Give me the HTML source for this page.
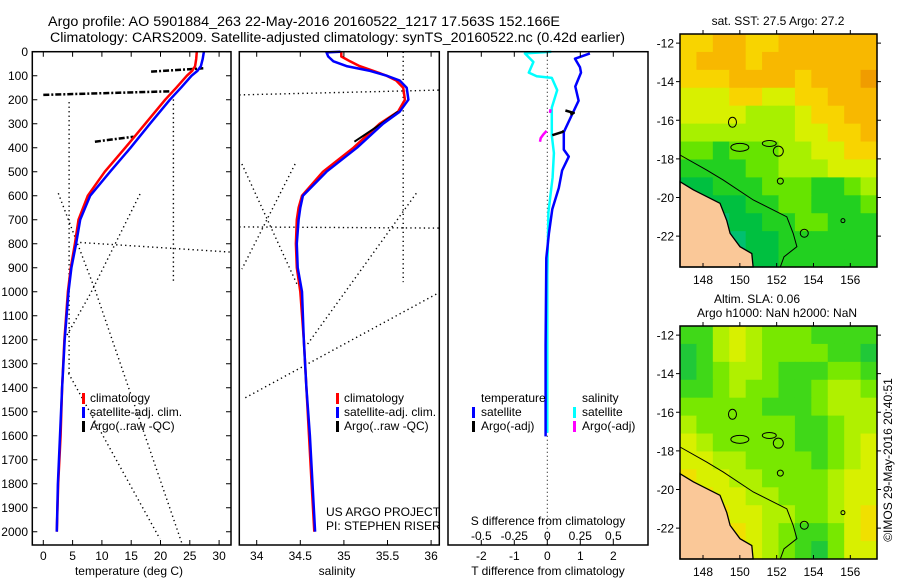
<!DOCTYPE html>
<html><head><meta charset="utf-8">
<style>
html,body{margin:0;padding:0;background:#fff;}
svg{display:block;font-family:"Liberation Sans",sans-serif;}
text{fill:#000;}
</style></head>
<body>
<svg id="fig" width="900" height="580" viewBox="0 0 900 580" xmlns="http://www.w3.org/2000/svg">
<text x="48" y="26" font-size="13.5" textLength="512" lengthAdjust="spacingAndGlyphs">Argo profile: AO 5901884_263 22-May-2016 20160522_1217 17.563S 152.166E</text>
<text x="50" y="42" font-size="13.5" textLength="575" lengthAdjust="spacingAndGlyphs">Climatology: CARS2009. Satellite-adjusted climatology: synTS_20160522.nc (0.42d earlier)</text>
<g id="p1"></g>
<g id="p2"></g>
<g id="p3"></g>
<g id="m1"></g>
<g id="m2"></g>
<text x="778" y="25" font-size="12" text-anchor="middle">sat. SST: 27.5 Argo: 27.2</text>
<text x="757" y="303" font-size="12" text-anchor="middle">Altim. SLA: 0.06</text>
<text x="777" y="317" font-size="12" text-anchor="middle">Argo h1000: NaN h2000: NaN</text>
<text x="0" y="0" font-size="12" text-anchor="middle" transform="translate(892,460) rotate(-90)">©IMOS 29-May-2016 20:40:51</text>
</svg>
<script>
// ---- profile data ----
const depthT = [0,30,60,80,100,150,200,300,400,500,600,700,800,900,1000,1200,1400,1600,1800,2000];
const tempSat = [27.4,27.2,26.9,26.3,25.3,23.5,21.6,18.2,14.9,11.4,8.0,6.3,5.6,4.8,4.3,3.65,3.2,2.85,2.5,2.3];
const tempClim = [26.2,26.1,25.9,25.4,24.5,22.7,20.8,17.4,14.0,10.5,7.6,6.0,5.4,4.7,4.2,3.6,3.2,2.95,2.55,2.3];
const depthS = [0,3,20,40,60,80,100,120,150,200,250,300,400,500,600,650,700,800,900,1000,1200,1400,1600,1800,2000];
const salSat = [34.96,34.80,34.82,34.88,35.03,35.30,35.49,35.64,35.72,35.74,35.64,35.45,35.15,34.80,34.53,34.50,34.48,34.46,34.47,34.52,34.54,34.57,34.61,34.64,34.67];
const salClim = [34.97,34.97,34.97,35.07,35.18,35.34,35.49,35.60,35.68,35.70,35.62,35.41,35.11,34.76,34.52,34.48,34.46,34.45,34.46,34.50,34.54,34.57,34.60,34.63,34.66];
const depthDT = [7,29,65,87,145,204,262,335,408,437,495,568,656,758,860,1224,1603];
const diffT = [1.29,0.84,0.99,1.02,0.85,0.95,0.75,0.5,0.5,0.65,0.45,0.35,0.15,0.05,-0.03,-0.05,-0.05];
const depthDS = [0,7,43,87,102,109,160,233,349,422,524,670,932,1588];
const diffS = [0.03,-0.17,-0.105,-0.14,-0.08,0.034,0.075,0.034,0.034,0.05,0.04,0.008,0,0];
const argoDT1D = [245,255,262]; const argoDT1V = [0.55,0.8,0.7];
const argoDT2D = [348,335,330]; const argoDT2V = [0.15,0.45,0.5];
const argoDS1D = [240,255]; const argoDS1V = [0.025,0.02];
const argoDS2D = [330,345,360,375]; const argoDS2V = [-0.005,-0.03,-0.05,-0.055];
// Argo raw temperature (dash-dot)
const argoT1D = [83,69]; const argoT1V = [18.4,27.3];
const argoT2D = [180,165]; const argoT2V = [0.0,21.6];
const argoT3D = [375,354]; const argoT3V = [8.8,15.4];
const argoS1D = [250,300,375]; const argoS1V = [35.62,35.43,35.12];
// dotted raw lines, temperature
const dotTA_D=[795,835], dotTA_V=[6.3,32];
const dotTB_D=[180,960], dotTB_V=[22.2,22.2];
const dotTC_D=[210,1350], dotTC_V=[4.4,4.4];
const dotTD_D=[593,1010,1183], dotTD_V=[16.5,8,4];
const dotTE_D=[590,990,2045], dotTE_V=[2.56,8.8,23.6];
const dotTF_D=[1340,2030], dotTF_V=[4.3,19.9];
// dotted raw lines, salinity
const dotSA_D=[180,160], dotSA_V=[33.8,36.09];
const dotSB_D=[730,735], dotSB_V=[33.8,36.09];
const dotSC_D=[0,960], dotSC_V=[35.68,35.68];
const dotSD_D=[468,967], dotSD_V=[33.83,34.46];
const dotSE_D=[468,906], dotSE_V=[34.44,33.83];
const dotSF_D=[590,1225], dotSF_V=[35.83,34.57];
const dotSG_D=[1010,1446], dotSG_V=[36.06,33.85];
// tick labels
const depthTicks = [0,100,200,300,400,500,600,700,800,900,1000,1100,1200,1300,1400,1500,1600,1700,1800,1900,2000];
const tempTicks = [0,5,10,15,20,25,30];
const salTicks = [34,34.5,35,35.5,36];
const salTickLabels = ["34","34.5","35","35.5","36"];
const dTTicks = [-2,-1,0,1,2];
const dSTicks = [-0.5,-0.25,0,0.25,0.5];
const dSTickLabels = ["-0.5","-0.25","0","0.25","0.5"];
const lonTicks = [148,150,152,154,156];
const latTicks = [-12,-14,-16,-18,-20,-22];
// map data (rows north->south, cols west->east)
const sstGrid = [
[7,7,8,8,7,7,8,8,8,8,8,8],
[7,8,8,8,7,8,8,8,8,8,8,8],
[7,7,7,8,8,8,8,7,8,8,8,9],
[6,6,6,7,7,6,6,7,7,8,8,8],
[6,6,6,6,5,5,5,6,7,7,8,8],
[5,5,5,5,5,5,5,6,6,7,7,8],
[4,4,3,4,4,4,5,5,6,6,7,7],
[3,3,3,3,4,4,5,5,5,6,6,6],
[2,2,3,3,3,4,4,4,3,3,4,5],
[1,2,2,2,3,3,4,4,3,3,3,4],
[1,1,1,2,2,3,3,4,4,3,3,3],
[1,1,1,1,2,2,3,3,3,3,3,3],
[0,0,0,1,2,2,3,3,3,3,3,3]];
const slaGrid = [
[3,3,5,6,5,4,4,4,3,3,3,3],
[2,3,5,6,5,4,4,4,4,3,3,2],
[2,3,4,5,5,4,3,3,3,4,4,3],
[3,3,4,5,4,4,3,3,4,5,5,4],
[4,4,4,4,4,3,3,3,4,5,5,5],
[5,4,4,4,4,4,4,3,3,4,5,5],
[6,5,4,4,4,4,4,3,3,4,5,6],
[6,6,5,5,4,4,4,4,3,4,5,6],
[7,6,6,5,5,4,4,4,4,5,6,6],
[7,7,6,6,5,5,4,4,4,5,6,6],
[7,7,7,6,6,5,5,4,4,5,6,7],
[7,7,7,7,6,5,4,3,3,4,6,7],
[8,7,7,7,6,5,4,3,2,4,6,6]];
const sstColors = ["#30dcc8","#00c070","#00c040","#22d020","#66e400","#a8f000","#d8f000","#f8d400","#f8b800","#f09c00"];
const slaColors = ["#10a860","#10b050","#20c838","#40d818","#78e800","#b0f000","#d8f000","#f0e000","#f0c000"];
const landLon = [146.75,147.47,148.92,149.29,149.47,150.01,150.65,150.72,146.75];
const landLat = [-19.18,-19.6,-20.3,-21.2,-21.86,-22.55,-22.9,-23.6,-23.6];
const shelfLon = [146.75,148.2,149.1,150.73,152.55,152.9,153.1,152.4,152.2];
const shelfLat = [-17.8,-18.58,-19.1,-20.13,-21.0,-21.86,-22.55,-23.07,-23.6];
const reefLon = [152.09,152.2,150.0,151.6,149.6,153.5,155.6];
const reefLat = [-17.6,-19.15,-17.4,-17.2,-16.1,-21.85,-21.2];
const reefRx = [5,3,9,7,4,4,2];
const reefRy = [5,3,4,3,5,4,2];

// ---- axes ----
const NS="http://www.w3.org/2000/svg";
const yD = d => 51.7 + d*0.24;
const xT = t => 43.3 + 5.86*t;
const xS = s => 256.7 + 87.2*(s-34);
const xDT = t => 547.3 + 33*t;
const xDS = s => 547.3 + 132*s;
const TOP=51.7, BOT=545;
function el(parent, tag, attrs){ const e=document.createElementNS(NS,tag); for(const k in attrs) e.setAttribute(k,attrs[k]); parent.appendChild(e); return e; }
function pts(xs, ds, fx){ return xs.map((v,i)=>fx(v).toFixed(1)+","+yD(ds[i]).toFixed(1)).join(" "); }

const p1=document.getElementById('p1'), p2=document.getElementById('p2'), p3=document.getElementById('p3');

function frame(g, x0, x1, name){
  const r=el(g,'rect',{x:x0,y:TOP,width:x1-x0,height:BOT-TOP,fill:'none',stroke:'#000','stroke-width':1.5});
  
  
}
function dotted(g, vs, ds, fx, name){
  const l=el(g,'polyline',{points:pts(vs,ds,fx),fill:'none',stroke:'#000','stroke-width':1.4,'stroke-dasharray':'1.3 3.2'});
  
  
}
function curve(g, vs, ds, fx, color, w, name, dash){
  const a={points:pts(vs,ds,fx),fill:'none',stroke:color,'stroke-width':w,'stroke-linejoin':'round'};
  if(dash) a['stroke-dasharray']=dash;
  const l=el(g,'polyline',a);
  
  
}
function text(g, x, y, s, anchor, name, size){
  const t=el(g,'text',{x:x,y:y,'font-size':size||12,'text-anchor':anchor||'start'});
  t.textContent=s;
  
  
  return t;
}
function mark(g,x,y,color,name){
  const r=el(g,'rect',{x:x-1.5,y:y-9,width:3,height:11,fill:color});
  
  
}

// Panel 1: temperature
dotted(p1,dotTA_V,dotTA_D,xT,'argo-raw-dotted-a');
dotted(p1,dotTB_V,dotTB_D,xT,'argo-raw-dotted-b');
dotted(p1,dotTC_V,dotTC_D,xT,'argo-raw-dotted-c');
dotted(p1,dotTD_V,dotTD_D,xT,'argo-raw-dotted-d');
dotted(p1,dotTE_V,dotTE_D,xT,'argo-raw-dotted-e');
dotted(p1,dotTF_V,dotTF_D,xT,'argo-raw-dotted-f');
curve(p1,argoT1V,argoT1D,xT,'#000',2.5,'argo-temp-dashdot-1','6 2 2 2');
curve(p1,argoT2V,argoT2D,xT,'#000',2.5,'argo-temp-dashdot-2','6 2 2 2');
curve(p1,argoT3V,argoT3D,xT,'#000',2.5,'argo-temp-dashdot-3','6 2 2 2');
curve(p1,tempClim,depthT,xT,'#ff0000',2.5,'temp-climatology-line');
curve(p1,tempSat,depthT,xT,'#0000ff',2.5,'temp-satellite-line');
frame(p1,32.3,231,'temperature-axes-frame');
depthTicks.forEach(d=>{
  text(p1,28,yD(d)+4.5,String(d),'end','depth-tick-label');
  const t=el(p1,'path',{d:`M32.3 ${yD(d)}h5M231 ${yD(d)}h-5`,stroke:'#000','stroke-width':1});
  
  
});
tempTicks.forEach(v=>{
  text(p1,xT(v),560,String(v),'middle','temp-tick-label');
  const t=el(p1,'path',{d:`M${xT(v)} ${BOT}v-5M${xT(v)} ${TOP}v5`,stroke:'#000','stroke-width':1});
  
  
});
text(p1,129,575,'temperature (deg C)','middle','temperature-axis-title');
mark(p1,83.5,402,'#ff0000','legend-climatology-marker'); text(p1,90,402,'climatology','start','legend-climatology');
mark(p1,83.5,416,'#0000ff','legend-satellite-marker'); text(p1,90,416,'satellite-adj. clim.','start','legend-satellite-adj');
mark(p1,83.5,430,'#000','legend-argo-marker'); text(p1,90,430,'Argo(..raw -QC)','start','legend-argo');

// Panel 2: salinity
dotted(p2,dotSA_V,dotSA_D,xS,'argo-raw-sal-dotted-a');
dotted(p2,dotSB_V,dotSB_D,xS,'argo-raw-sal-dotted-b');
dotted(p2,dotSC_V,dotSC_D,xS,'argo-raw-sal-dotted-c');
dotted(p2,dotSD_V,dotSD_D,xS,'argo-raw-sal-dotted-d');
dotted(p2,dotSE_V,dotSE_D,xS,'argo-raw-sal-dotted-e');
dotted(p2,dotSF_V,dotSF_D,xS,'argo-raw-sal-dotted-f');
dotted(p2,dotSG_V,dotSG_D,xS,'argo-raw-sal-dotted-g');
curve(p2,salClim,depthS,xS,'#ff0000',2.5,'sal-climatology-line');
curve(p2,argoS1V,argoS1D,xS,'#000',2,'argo-sal-segment');
curve(p2,salSat,depthS,xS,'#0000ff',2.5,'sal-satellite-line');
frame(p2,239.3,439.3,'salinity-axes-frame');
salTicks.forEach((v,i)=>{
  text(p2,xS(v),560,salTickLabels[i],'middle','sal-tick-label');
  const t=el(p2,'path',{d:`M${xS(v)} ${BOT}v-5M${xS(v)} ${TOP}v5`,stroke:'#000','stroke-width':1});
  
  
});
text(p2,337,575,'salinity','middle','salinity-axis-title');
mark(p2,337.5,402,'#ff0000','legend2-climatology-marker'); text(p2,344,402,'climatology','start','legend2-climatology');
mark(p2,337.5,416,'#0000ff','legend2-satellite-marker'); text(p2,344,416,'satellite-adj. clim.','start','legend2-satellite-adj');
mark(p2,337.5,430,'#000','legend2-argo-marker'); text(p2,344,430,'Argo(..raw -QC)','start','legend2-argo');
text(p2,326,516,'US ARGO PROJECT','start','project-credit');
text(p2,326,530,'PI: STEPHEN RISER','start','pi-credit');

// Panel 3: differences
const zl=el(p3,'line',{x1:xDT(0),y1:TOP,x2:xDT(0),y2:BOT,stroke:'#000','stroke-width':1,'stroke-dasharray':'1 3'});


curve(p3,diffS,depthDS,xDS,'#00ffff',2.5,'sal-diff-satellite-line');
curve(p3,diffT,depthDT,xDT,'#0000ff',2.5,'temp-diff-satellite-line');
curve(p3,argoDT1V,argoDT1D,xDT,'#000',2.5,'temp-diff-argo-1');
curve(p3,argoDT2V,argoDT2D,xDT,'#000',2.5,'temp-diff-argo-2');
curve(p3,argoDS1V,argoDS1D,xDS,'#ff00ff',2.5,'sal-diff-argo-1');
curve(p3,argoDS2V,argoDS2D,xDS,'#ff00ff',2.5,'sal-diff-argo-2');
frame(p3,448,648,'difference-axes-frame');
dTTicks.forEach(v=>{
  text(p3,xDT(v),560,String(v),'middle','tdiff-tick-label');
  const t=el(p3,'path',{d:`M${xDT(v)} ${BOT}v-5M${xDT(v)} ${TOP}v5`,stroke:'#000','stroke-width':1});
  
  
});
dSTicks.forEach((v,i)=>{ text(p3,xDS(v),540,dSTickLabels[i],'middle','sdiff-tick-label'); });
text(p3,548,525,'S difference from climatology','middle','sdiff-axis-title');
text(p3,548,575,'T difference from climatology','middle','tdiff-axis-title');
text(p3,481,402,'temperature','start','legend3-temperature-header');
mark(p3,473.5,416,'#0000ff','legend3-temp-sat-marker'); text(p3,481,416,'satellite','start','legend3-temp-satellite');
mark(p3,473.5,430,'#000','legend3-temp-argo-marker'); text(p3,481,430,'Argo(-adj)','start','legend3-temp-argo');
text(p3,582,402,'salinity','start','legend3-salinity-header');
mark(p3,574.5,416,'#00ffff','legend3-sal-sat-marker'); text(p3,582,416,'satellite','start','legend3-sal-satellite');
mark(p3,574.5,430,'#ff00ff','legend3-sal-argo-marker'); text(p3,582,430,'Argo(-adj)','start','legend3-sal-argo');

// ---- maps ----
const LON0=146.75, LON1=157.45, LAT0=-11.53, LAT1=-23.6;
const MX0=680, MX1=877, MH=233;
function drawMap(gid, top, grid, colors, prefix){
  const g=document.getElementById(gid);
  const mx = lon => MX0 + (lon-LON0)*(MX1-MX0)/(LON1-LON0);
  const my = lat => top + (LAT0-lat)*MH/(LAT0-LAT1);
  const rows=grid.length, cols=grid[0].length;
  const cw=(MX1-MX0)/cols, ch=MH/rows;
  grid.forEach((row,r)=>row.forEach((v,c)=>{
    const cell=el(g,'rect',{x:(MX0+c*cw).toFixed(2),y:(top+r*ch).toFixed(2),width:(cw+0.6).toFixed(2),height:(ch+0.6).toFixed(2),fill:colors[v]});
    
    
  }));
  const land=el(g,'polygon',{points:landLon.map((l,i)=>mx(l).toFixed(1)+","+my(landLat[i]).toFixed(1)).join(" "),fill:'#fac898',stroke:'#000','stroke-width':1.3});
  
  
  const shelf=el(g,'polyline',{points:shelfLon.map((l,i)=>mx(l).toFixed(1)+","+my(shelfLat[i]).toFixed(1)).join(" "),fill:'none',stroke:'#000','stroke-width':1});
  
  
  reefLon.forEach((l,i)=>{
    const e=el(g,'ellipse',{cx:mx(l),cy:my(reefLat[i]),rx:reefRx[i],ry:reefRy[i],fill:'none',stroke:'#000','stroke-width':1});
    
    
  });
  const fr=el(g,'rect',{x:MX0,y:top,width:MX1-MX0,height:MH,fill:'none',stroke:'#000','stroke-width':1.5});
  
  
  lonTicks.forEach(v=>{
    text(g,mx(v),top+MH+17,String(v),'middle',prefix+'-lon-label');
    const t=el(g,'path',{d:`M${mx(v)} ${top+MH}v-4M${mx(v)} ${top}v-4`,stroke:'#000','stroke-width':1});
    
    
  });
  latTicks.forEach(v=>{
    text(g,674,my(v)+4.5,String(v),'end',prefix+'-lat-label');
    const t=el(g,'path',{d:`M${MX0} ${my(v)}h-4M${MX1} ${my(v)}h4`,stroke:'#000','stroke-width':1});
    
    
  });
}
drawMap('m1',34,sstGrid,sstColors,'sst-map');
drawMap('m2',326,slaGrid,slaColors,'sla-map');
</script>
</body></html>
